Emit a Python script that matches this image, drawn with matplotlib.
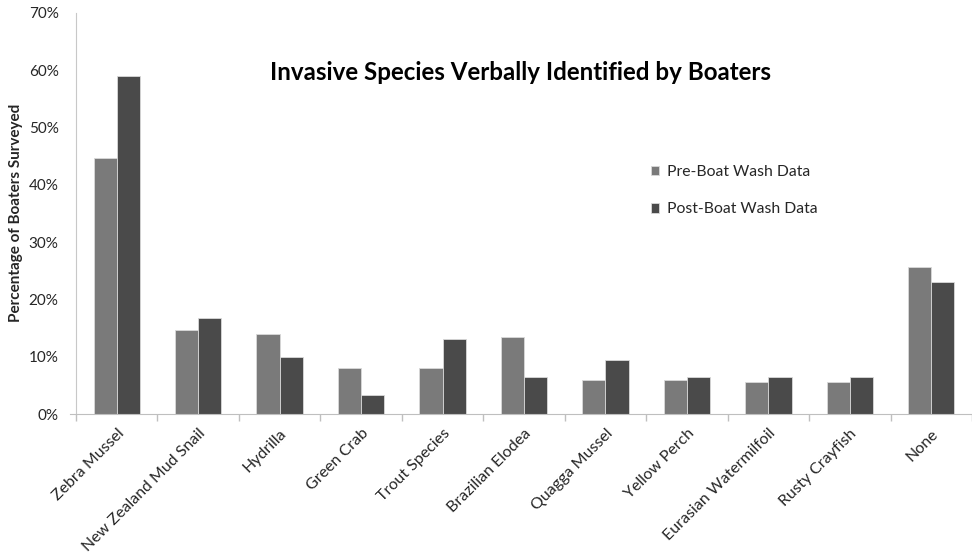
import numpy as np
import matplotlib
matplotlib.use('Agg')
import matplotlib.pyplot as plt
from matplotlib.ticker import PercentFormatter

species = ['Zebra Mussel', 'New Zealand Mud Snail', 'Hydrilla', 'Green Crab',
           'Trout Species', 'Brazilian Elodea', 'Quagga Mussel', 'Yellow Perch',
           'Eurasian Watermilfoil', 'Rusty Crayfish', 'None']
pre_wash = [44.7, 14.6, 14.0, 8.1, 8.1, 13.5, 6.0, 6.0, 5.5, 5.5, 25.7]
post_wash = [58.9, 16.8, 9.9, 3.4, 13.0, 6.4, 9.5, 6.45, 6.45, 6.45, 23.0]
series_names = ['Pre-Boat Wash Data', 'Post-Boat Wash Data']

plt.rcParams['font.family'] = ['Lato', 'DejaVu Sans']
text_col = '#262626'

fig = plt.figure(figsize=(9.72, 5.54), dpi=100)
ax = fig.add_axes([76 / 972, 1 - 414 / 554, 1 - 76 / 972, (414 - 12.7) / 554])

x = np.arange(len(species))
w = 0.285
ax.bar(x - w / 2, pre_wash, w, color='#7a7a7a', edgecolor='#d9d9d9', linewidth=0.6,
       label=series_names[0])
ax.bar(x + w / 2, post_wash, w, color='#4a4a4a', edgecolor='#d9d9d9', linewidth=0.6,
       label=series_names[1])

ax.set_xlim(-0.5, -0.5 + (972 - 76) / 82.47)
ax.set_ylim(0, 70)
ax.set_yticks(np.arange(0, 71, 10))
ax.yaxis.set_major_formatter(PercentFormatter(decimals=0))
ax.tick_params(axis='y', length=0, pad=12.5, labelsize=11, labelcolor=text_col)

ax.set_xticks(x)
ax.set_xticklabels(species, rotation=45, ha='right', rotation_mode='anchor',
                   fontsize=11.5, color=text_col)
ax.tick_params(axis='x', which='major', length=0, pad=9)
ax.set_xticks(np.arange(-0.5, len(species), 1), minor=True)
ax.tick_params(axis='x', which='minor', length=5, color='#bfbfbf', width=1)

for s in ['top', 'right']:
    ax.spines[s].set_visible(False)
ax.spines['left'].set_color('#c8c8c8')
ax.spines['bottom'].set_color('#bfbfbf')
ax.spines['bottom'].set_bounds(-0.575, 11)

# y label placed by hand so it sits clear of the tick labels
fig.text(16 / 972, 1 - 213 / 554, 'Percentage of Boaters Surveyed', rotation=90,
         ha='center', va='center', fontsize=11, fontweight='bold', color=text_col)

fig.text(520 / 972, 1 - 72 / 554, 'Invasive Species Verbally Identified by Boaters',
         ha='center', va='center', fontsize=17.4, fontweight='bold', color='black')

fig.legend(loc='upper left', bbox_to_anchor=(643 / 972, 1 - 157 / 554), frameon=False,
           fontsize=11.3, handlelength=0.55, handleheight=0.55, handletextpad=0.45,
           labelspacing=1.5, borderpad=0, labelcolor=text_col)

fig.savefig('out.png', dpi=100)
